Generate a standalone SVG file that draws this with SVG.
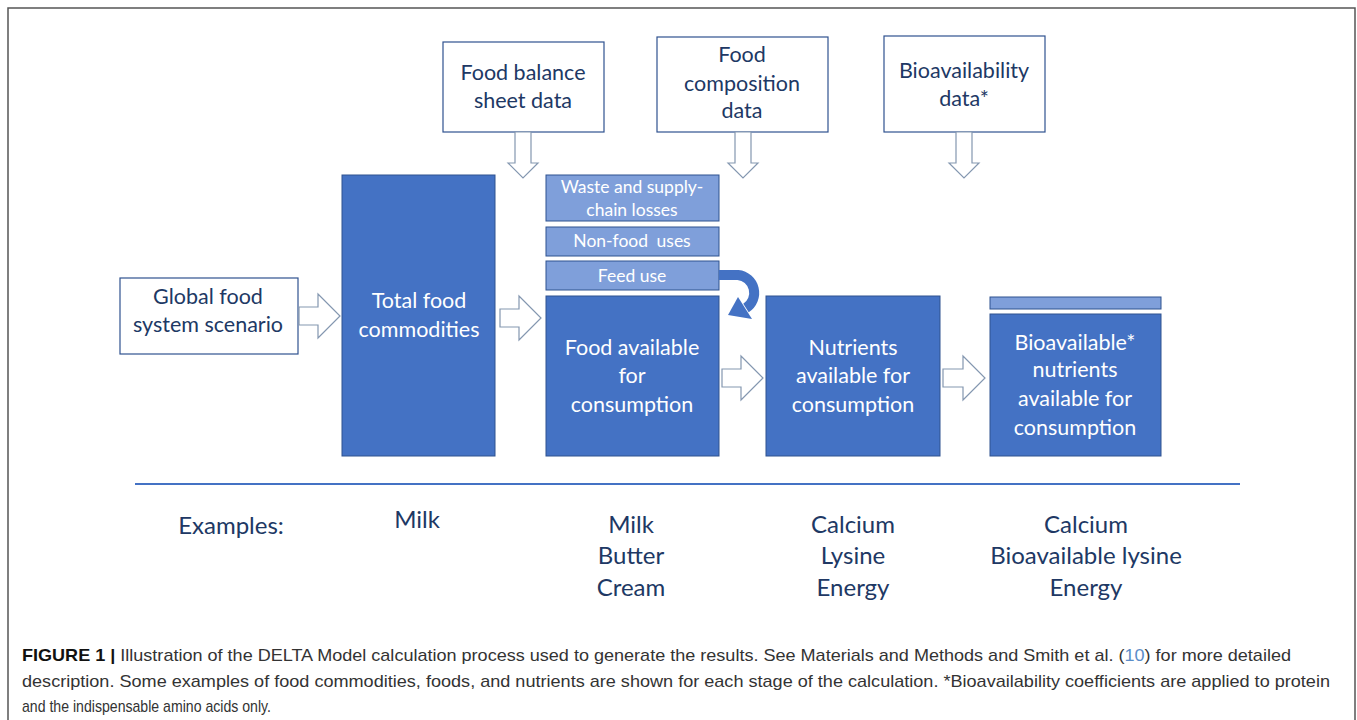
<svg xmlns="http://www.w3.org/2000/svg" width="1357" height="720" viewBox="0 0 1357 720">
<style>
.frame{fill:#fff;stroke:#555;stroke-width:1.5}
.wbox{fill:#fff;stroke:#2F528F;stroke-width:1.2}
.bbox{fill:#4472C4;stroke:#2F528F;stroke-width:1}
.lbox{fill:#7F9FDA;stroke:#2F528F;stroke-width:1}
.harrow{fill:#fff;stroke:#8497B0;stroke-width:1.2}
.dt{font-family:Lato,"Open Sans","Liberation Sans",sans-serif;font-size:21.5px;fill:#203864;text-anchor:middle}
.wt{font-family:Lato,"Open Sans","Liberation Sans",sans-serif;font-size:21.5px;fill:#fff;text-anchor:middle}
.st{font-family:Lato,"Open Sans","Liberation Sans",sans-serif;font-size:17.5px;fill:#fff;text-anchor:middle}
.ex{font-family:Lato,"Open Sans","Liberation Sans",sans-serif;font-size:24px;fill:#203864;text-anchor:middle}
.cap{font-family:"Liberation Sans Narrow","Liberation Sans",Arial,sans-serif;font-size:17px;fill:#333}
</style>
<rect class="frame" x="8" y="8" width="1347" height="730"/>

<g id="food-balance">
<rect class="wbox" x="443" y="42" width="161" height="90"/>
<text class="dt" x="523" y="80">Food balance</text>
<text class="dt" x="523" y="108">sheet data</text>
</g>
<g id="food-composition">
<rect class="wbox" x="657" y="37" width="171" height="95"/>
<text class="dt" x="742" y="62">Food</text>
<text class="dt" x="742" y="91">composition</text>
<text class="dt" x="742" y="118">data</text>
</g>
<g id="bioavailability-data">
<rect class="wbox" x="884" y="36" width="161" height="96"/>
<text class="dt" x="964" y="78">Bioavailability</text>
<text class="dt" x="964" y="106">data*</text>
</g>
<g id="global-scenario">
<rect class="wbox" x="120" y="278" width="178" height="76"/>
<text class="dt" x="208" y="304">Global food</text>
<text class="dt" x="208" y="332">system scenario</text>
</g>
<g id="total-food">
<rect class="bbox" x="342" y="175" width="153" height="281"/>
<text class="wt" x="419" y="308">Total food</text>
<text class="wt" x="419" y="337">commodities</text>
</g>
<g id="waste">
<rect class="lbox" x="546" y="175" width="173" height="46"/>
<text class="st" x="632" y="193">Waste and supply-</text>
<text class="st" x="632" y="216">chain losses</text>
</g>
<g id="non-food">
<rect class="lbox" x="546" y="227" width="173" height="29"/>
<text class="st" x="632" y="247" word-spacing="4">Non-food uses</text>
</g>
<g id="feed-use">
<rect class="lbox" x="546" y="261" width="173" height="29"/>
<text class="st" x="632" y="282">Feed use</text>
</g>
<g id="food-available">
<rect class="bbox" x="546" y="296" width="173" height="160"/>
<text class="wt" x="632" y="355">Food available</text>
<text class="wt" x="632" y="383">for</text>
<text class="wt" x="632" y="412">consumption</text>
</g>
<g id="nutrients">
<rect class="bbox" x="766" y="296" width="174" height="160"/>
<text class="wt" x="853" y="355">Nutrients</text>
<text class="wt" x="853" y="383">available for</text>
<text class="wt" x="853" y="412">consumption</text>
</g>
<g id="bioavailable-nutrients">
<rect class="lbox" x="990" y="297" width="171" height="12"/>
<rect class="bbox" x="990" y="314" width="171" height="142"/>
<text class="wt" x="1075" y="350">Bioavailable*</text>
<text class="wt" x="1075" y="377">nutrients</text>
<text class="wt" x="1075" y="406">available for</text>
<text class="wt" x="1075" y="435">consumption</text>
</g>

<g id="connectors">
<polygon class="harrow" points="515,132 531,132 531,163 538,163 523,178 508,163 515,163"/>
<polygon class="harrow" points="735,132 751,132 751,163 758,163 743,178 728,163 735,163"/>
<polygon class="harrow" points="956,132 972,132 972,163 979,163 964,178 949,163 956,163"/>
<polygon class="harrow" points="299,307 318,307 318,294 340,316 318,338 318,325 299,325"/>
<polygon class="harrow" points="500,309 519,309 519,296 541,318 519,340 519,327 500,327"/>
<polygon class="harrow" points="722,369 741,369 741,356 763,378 741,400 741,387 722,387"/>
<polygon class="harrow" points="943,369 963,369 963,356 985,378 963,400 963,387 943,387"/>
<path d="M719 275 H738 A18 18 0 0 1 746 308" fill="none" stroke="#4472C4" stroke-width="10"/>
<polygon points="752,319 738,297 728,315" fill="#4472C4"/>
<line x1="135" y1="484" x2="1240" y2="484" stroke="#4472C4" stroke-width="2"/>
</g>

<g id="examples">
<text class="ex" x="231" y="534">Examples:</text>
<text class="ex" x="417" y="528">Milk</text>
<text class="ex" x="631" y="533">Milk</text>
<text class="ex" x="631" y="564">Butter</text>
<text class="ex" x="631" y="596">Cream</text>
<text class="ex" x="853" y="533">Calcium</text>
<text class="ex" x="853" y="564">Lysine</text>
<text class="ex" x="853" y="596">Energy</text>
<text class="ex" x="1086" y="533">Calcium</text>
<text class="ex" x="1086" y="564">Bioavailable lysine</text>
<text class="ex" x="1086" y="596">Energy</text>
</g>

<g id="caption">
<text class="cap" x="22" y="661" textLength="1269" lengthAdjust="spacingAndGlyphs"><tspan font-weight="bold" fill="#111">FIGURE 1 |</tspan> Illustration of the DELTA Model calculation process used to generate the results. See Materials and Methods and Smith et al. (<tspan fill="#5B8DC9">10</tspan>) for more detailed</text>
<text class="cap" x="22" y="687" textLength="1308" lengthAdjust="spacingAndGlyphs">description. Some examples of food commodities, foods, and nutrients are shown for each stage of the calculation. *Bioavailability coefficients are applied to protein</text>
<text class="cap" x="22" y="712" textLength="249" lengthAdjust="spacingAndGlyphs">and the indispensable amino acids only.</text>
</g>
</svg>
